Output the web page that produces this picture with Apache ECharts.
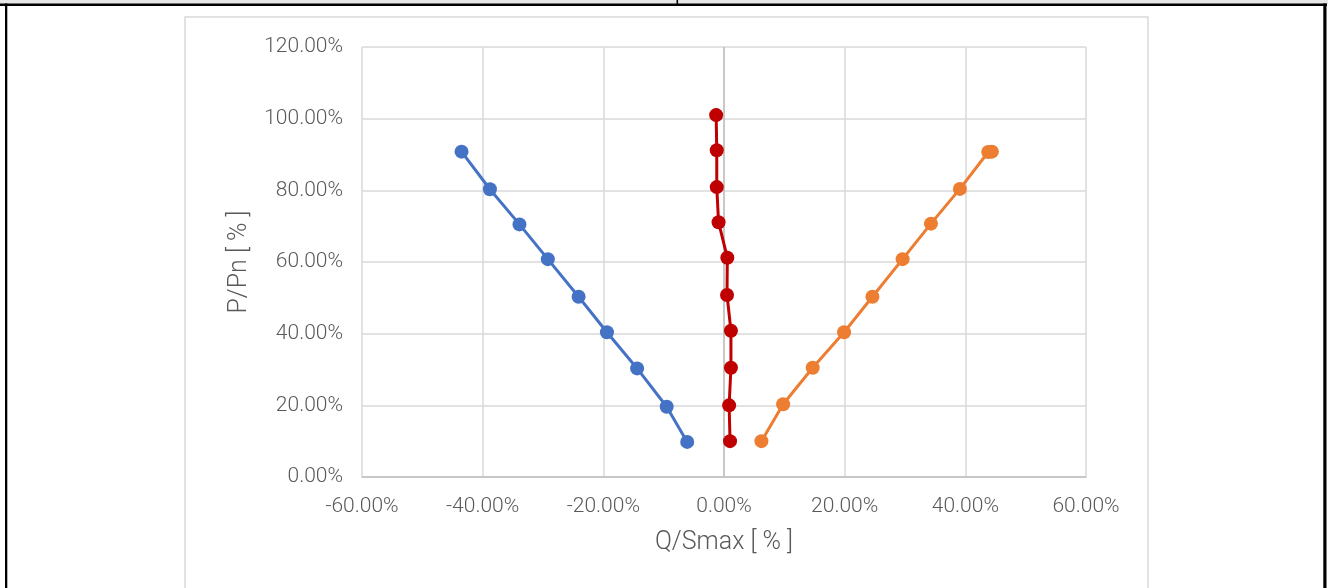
<!DOCTYPE html>
<html>
<head>
<meta charset="utf-8">
<script src="https://cdn.jsdelivr.net/npm/echarts@6/dist/echarts.min.js"></script>
<style>
html,body{margin:0;padding:0;background:#fff;}
#chart{width:1328px;height:588px;}
</style>
</head>
<body>
<div id="chart"></div>
<script>
// Data (Q/Smax %, P/Pn %)
const blueQ = [-43.5, -38.8, -33.9, -29.2, -24.1, -19.4, -14.4, -9.5, -6.1];
const blueP = [90.8, 80.3, 70.5, 60.8, 50.3, 40.4, 30.3, 19.6, 9.8];
const redQ = [-1.3, -1.2, -1.2, -0.9, 0.55, 0.5, 1.15, 1.15, 0.85, 1.0];
const redP = [101.0, 91.2, 80.9, 71.1, 61.2, 50.8, 40.8, 30.5, 20.0, 10.0];
const orangeQ = [6.2, 9.8, 14.7, 19.9, 24.6, 29.6, 34.3, 39.1, 43.8, 44.4];
const orangeP = [10.0, 20.3, 30.5, 40.4, 50.3, 60.8, 70.7, 80.4, 90.7, 90.8];
const xTitle = 'Q/Smax [ % ]';
const yTitle = 'P/Pn [ % ]';

function pairs(xs, ys) { return xs.map((x, i) => [x, ys[i]]); }

const labelFont = {color: '#595959', fontSize: 21, fontFamily: 'Roboto', fontWeight: 300};
const titleFont = {color: '#595959', fontSize: 25, fontFamily: 'Roboto', fontWeight: 300};
const pct = v => v.toFixed(2) + '%';

function mkSeries(name, xs, ys, color) {
  return {
    name: name, type: 'line', data: pairs(xs, ys),
    symbol: 'circle', symbolSize: 14, showAllSymbol: true,
    lineStyle: {color: color, width: 3},
    itemStyle: {color: color},
    z: 3
  };
}

const chart = echarts.init(document.getElementById('chart'));
const s1 = mkSeries('blue', blueQ, blueP, '#4472C4');
s1.markLine = {
  silent: true, symbol: ['none', 'none'], label: {show: false},
  lineStyle: {color: '#bfbfbf', width: 1.5, type: 'solid'},
  data: [{xAxis: 0}], z: 1
};
chart.setOption({
  animation: false,
  backgroundColor: '#fff',
  grid: {left: 362, right: 242, top: 47, bottom: 111, outerBoundsMode: 'none'},
  xAxis: {
    type: 'value', min: -60, max: 60, interval: 20,
    axisLine: {show: true, onZero: false, lineStyle: {color: '#bfbfbf', width: 1.5}},
    axisTick: {show: false},
    splitLine: {show: true, lineStyle: {color: '#d9d9d9', width: 1.5}},
    axisLabel: Object.assign({formatter: pct, margin: 19}, labelFont),
    name: xTitle, nameLocation: 'middle', nameGap: 53,
    nameTextStyle: titleFont
  },
  yAxis: {
    type: 'value', min: 0, max: 120, interval: 20,
    axisLine: {show: false},
    axisTick: {show: false},
    splitLine: {show: true, lineStyle: {color: '#d9d9d9', width: 1.5}},
    axisLabel: Object.assign({formatter: pct, margin: 19}, labelFont),
    name: yTitle, nameLocation: 'middle', nameGap: 110,
    nameTextStyle: titleFont
  },
  series: [
    s1,
    mkSeries('red', redQ, redP, '#C00000'),
    mkSeries('orange', orangeQ, orangeP, '#ED7D31')
  ],
  graphic: [
    {type: 'rect', shape: {x: 185, y: 17, width: 963, height: 620}, style: {fill: 'none', stroke: '#d9d9d9', lineWidth: 1.5}, z: -1, silent: true},
    {type: 'rect', shape: {x: 0, y: 0, width: 1328, height: 4}, style: {fill: '#e7e6e6'}, silent: true},
    {type: 'rect', shape: {x: 0, y: 3.5, width: 1327, height: 2.5}, style: {fill: '#000'}, silent: true},
    {type: 'rect', shape: {x: 5, y: 3.5, width: 2.3, height: 590}, style: {fill: '#000'}, silent: true},
    {type: 'rect', shape: {x: 1323.3, y: 3.5, width: 3.2, height: 590}, style: {fill: '#000'}, silent: true},
    {type: 'rect', shape: {x: 676.5, y: 0, width: 1.6, height: 4}, style: {fill: '#000'}, silent: true}
  ]
});
</script>
</body>
</html>
